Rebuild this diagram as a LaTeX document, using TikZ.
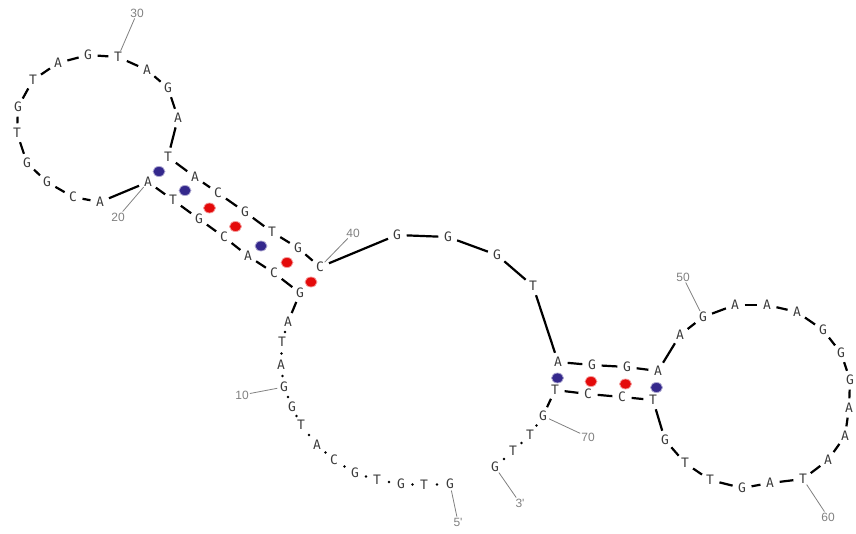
\documentclass[tikz,border=0pt]{standalone}
\usepackage{fontspec}
\setmainfont{DejaVu Sans}
\newfontfamily\basefont{DejaVu Sans Mono}
\newfontfamily\numfont{Liberation Sans}
\usepackage{tikz}
\usetikzlibrary{shapes.geometric, calc}
\definecolor{pblue}{RGB}{52,40,140}
\definecolor{pred}{RGB}{228,10,10}
\definecolor{basegray}{RGB}{60,60,60}
\tikzstyle{base} = [circle, minimum size=19pt, inner sep=0pt, text=basegray, font=\basefont\fontsize{13}{13}\selectfont]
\tikzstyle{link} = [line width=2.2pt, black]
\tikzstyle{tick} = [circle, fill=black, inner sep=0pt, minimum size=2.8pt]
\tikzstyle{pair} = [ellipse, minimum width=12pt, minimum height=10pt, inner sep=0pt]
\tikzstyle{num} = [inner sep=1pt, text=gray, font=\numfont\fontsize{12}{12}\selectfont]
\tikzstyle{leader} = [gray, line width=0.8pt]

\begin{document}
\begin{tikzpicture}[x=1pt, y=-1pt]
      \useasboundingbox (0,0) rectangle (856,533);

      % Bases, 5' to 3'
      \foreach \i/\b/\x/\y in {
        1/G/450/484, 2/T/424/485, 3/G/401/484, 4/T/377/480, 5/G/355/473,
        6/C/334/460, 7/A/317/445, 8/T/301/425, 9/G/292/407, 10/G/284/387,
        11/A/281/365, 12/T/282/342, 13/A/288/322, 14/G/300/293, 15/C/274/273,
        16/A/248/256, 17/C/224/237, 18/G/199/219, 19/T/173/200, 20/A/148/182,
        21/A/100/202, 22/C/73/197, 23/G/47/182, 24/G/27/163, 25/T/17/133,
        26/G/18/107, 27/T/33/80, 28/A/58/63, 29/G/88/55, 30/T/118/57,
        31/A/147/70, 32/G/168/88, 33/A/178/118, 34/T/168/157, 35/A/195/177,
        36/C/218/193, 37/G/245/212, 38/T/272/232, 39/G/298/248, 40/C/320/267,
        41/G/397/235, 42/G/448/237, 43/G/497/255, 44/T/533/286, 45/A/558/362,
        46/G/592/365, 47/G/627/367, 48/A/658/371, 49/A/680/335, 50/G/703/317,
        51/A/735/305, 52/A/767/305, 53/A/797/312, 54/G/823/330, 55/G/841/353,
        56/G/850/380, 57/A/849/408, 58/A/845/436, 59/A/828/460, 60/T/803/479,
        61/A/770/483, 62/G/742/488, 63/T/710/480, 64/T/685/463, 65/G/665/440,
        66/T/653/400, 67/C/622/397, 68/C/588/394, 69/T/555/390, 70/G/543/416,
        71/T/530/435, 72/T/513/451, 73/G/495/467}
        \node[base] (b\i) at (\x,\y) {\b};

      % Backbone
      \foreach \i in {13,...,69} {
        \pgfmathtruncatemacro\j{\i+1}
        \draw[link] (b\i) -- (b\j);
      }
      \foreach \i in {1,...,12,70,71,72} {
        \pgfmathtruncatemacro\j{\i+1}
        \path (b\i) -- node[tick] {} (b\j);
      }

      % Base pairs
      \foreach \a/\b/\c in {20/34/pblue, 19/35/pblue, 18/36/pred, 17/37/pred,
        16/38/pblue, 15/39/pred, 14/40/pred,
        45/69/pblue, 46/68/pred, 47/67/pred, 48/66/pblue}
        \node[pair, fill=\c, draw=\c!40, line width=0.8pt] (p\a) at ($(b\a)!0.5!(b\b)+(1,2)$) {};

      % Numbering
      \node[num] (l10) at (242,395) {10};
      \node[num] (l20) at (118,217) {20};
      \node[num] (l30) at (137,13) {30};
      \node[num] (l40) at (353,233) {40};
      \node[num] (l50) at (683,277) {50};
      \node[num] (l60) at (828,517) {60};
      \node[num] (l70) at (588,437) {70};
      \node[num] (l5) at (458,522) {5'};
      \node[num] (l3) at (520,503) {3'};
      \foreach \n/\i in {10/10, 20/20, 30/30, 40/40, 50/50, 60/60, 70/70, 5/1, 3/73}
        \draw[leader, shorten >=-3pt] (l\n) -- (b\i);
    \end{tikzpicture}
\end{document}
